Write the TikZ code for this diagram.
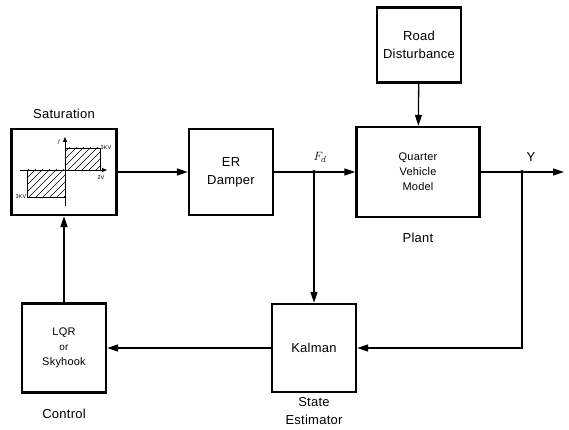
\documentclass[tikz,border=0pt]{standalone}
\usepackage{fontspec}
\setmainfont[LetterSpace=2]{Liberation Sans}
\usetikzlibrary{arrows.meta,positioning}

\begin{document}
\begin{tikzpicture}[
    x=1pt,y=-1pt,
    font=\fontsize{13}{18}\selectfont,
    node distance=6pt,
    block/.style={draw,line width=2.4pt,minimum width=84pt,minimum height=86pt,align=center,inner sep=2pt},
    smalltxt/.style={font=\fontsize{11}{15}\selectfont},
    caption/.style={align=center,inner sep=1pt},
    arr/.style={-{Triangle[length=11pt,width=7pt]},line width=1.3pt},
    axis/.style={-{Triangle[length=5pt,width=4pt]},line width=0.8pt},
    junc/.style={circle,fill,inner sep=0pt,minimum size=4pt},
    tiny/.style={font=\fontsize{5.5}{5.5}\selectfont,inner sep=0.5pt}
]
    \useasboundingbox (0,0) rectangle (569,430);

    % blocks
    \node[block,minimum width=105pt] (sat) at (64,172) {};
    \node[block] (er) at (231,172) {ER\\Damper};
    \node[block,smalltxt,minimum width=123pt,minimum height=90pt] (plant) at (418,172) {Quarter\\Vehicle\\Model};
    \node[block,minimum height=75pt] (road) at (419,45) {Road\\Disturbance};
    \node[block,minimum height=88pt] (kal) at (314,348) {Kalman};
    \node[block,smalltxt,minimum height=89pt] (lqr) at (64,348) {LQR\\{\fontsize{10}{10}\selectfont or}\\Skyhook};

    % captions
    \node[caption,above=8pt of sat] (satlab) {Saturation};
    \node[caption,below=14pt of plant] (plantlab) {Plant};
    \node[caption,below=14pt of lqr] (lqrlab) {Control};
    \node[caption,below=3pt of kal] (kallab) {State\\Estimator};

    % saturation characteristic
    \begin{scope}
        \clip (65,148) rectangle (100,170);
        \foreach \k in {10,17,...,110}
            \draw[line width=0.7pt] (\k,200) -- (\k+60,140);
    \end{scope}
    \begin{scope}
        \clip (27,170) rectangle (65,197);
        \foreach \k in {-30,-23,...,70}
            \draw[line width=0.7pt] (\k,200) -- (\k+60,140);
    \end{scope}
    \draw[line width=0.8pt] (65,148) -- (100,148) -- (100,170);
    \draw[line width=0.8pt] (27,170) -- (27,197) -- (65,197);
    \draw[axis] (65,206) -- (65,137);
    \draw[axis] (20,170) -- (107,170);
    \node[tiny,right] (hi) at (100,148) {3KV};
    \node[tiny,left] (lo) at (27,197) {3KV};
    \node[tiny] (flab) at (59,142) {$f$};
    \node[tiny] (vlab) at (101,178) {2V};

    % connectors
    \node[junc] (fd) at (314,172) {};
    \node[junc] (yj) at (522,172) {};
    \coordinate (yout) at (564,172);
    \node (fdlab) at (320,157) {$F_d$};
    \node (ylab) at (531,157) {Y};

    \draw[arr] (sat) -- (er);
    \draw[line width=1.3pt] (er.east) -- (fd);
    \draw[arr] (fd) -- (plant.west);
    \draw[arr] (fd) -- (kal.north);
    \draw[arr] (road) -- (plant);
    \draw[line width=1.3pt] (plant.east) -- (yj);
    \draw[arr] (yj) -- (yout);
    \draw[arr] (yj) |- (kal.east);
    \draw[arr] (kal) -- (lqr);
    \draw[arr] (lqr) -- (sat);
\end{tikzpicture}
\end{document}
